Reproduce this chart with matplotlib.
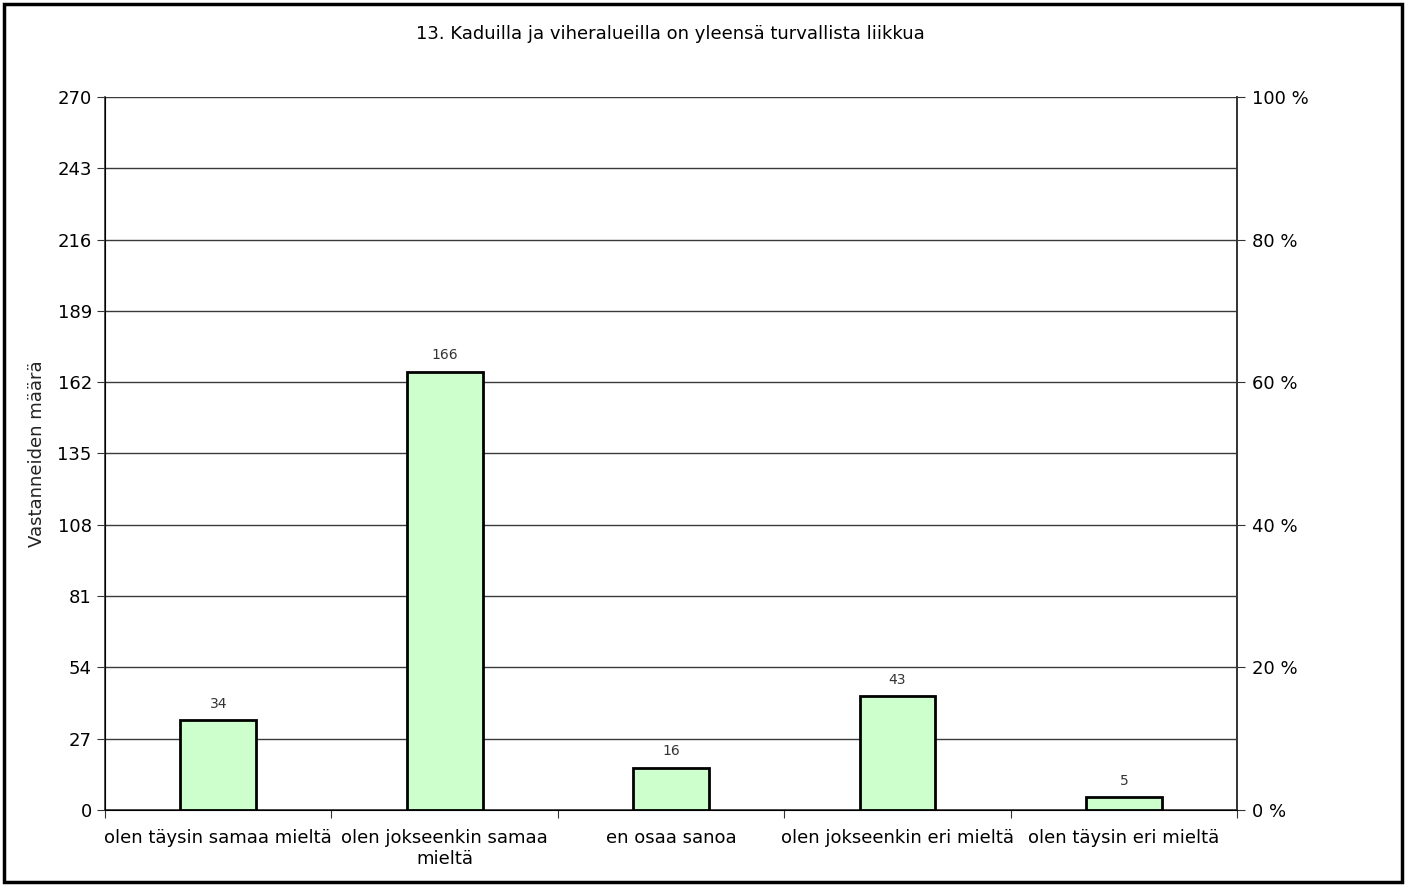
import matplotlib.pyplot as plt
import numpy as np
from matplotlib.patches import Rectangle

# data
kategoriat = ["olen täysin samaa mieltä", "olen jokseenkin samaa\nmieltä", "en osaa sanoa",
              "olen jokseenkin eri mieltä", "olen täysin eri mieltä"]
vastaukset = [34, 166, 16, 43, 5]
y_ticks = [0, 27, 54, 81, 108, 135, 162, 189, 216, 243, 270]
pros_ticks = [0, 20, 40, 60, 80, 100]
otsikko = "13. Kaduilla ja viheralueilla on yleensä turvallista liikkua"

plt.rcParams['font.family'] = ['DejaVu Sans']

fig = plt.figure(figsize=(14.08, 8.86), dpi=100)
ax = fig.add_axes([0.0746, 0.0858, 0.8040, 0.8047])

x = np.arange(len(kategoriat))
ax.bar(x, vastaukset, width=0.335, color='#CCFFCC', edgecolor='black', linewidth=2, zorder=3)
for xi, v in zip(x, vastaukset):
    ax.text(xi, v + 3.5, str(v), ha='center', va='bottom', fontsize=10, color='#333333')

ax.set_xlim(-0.5, len(kategoriat) - 0.5)
ax.set_ylim(0, 270)
ax.set_yticks(y_ticks)
ax.yaxis.grid(True, color='#3a3a3a', linewidth=1, zorder=0)
ax.tick_params(axis='y', labelsize=13, length=6, direction='out', color='#333333')

# x ticks at category boundaries, labels at centers
ax.set_xticks(np.arange(-0.5, len(kategoriat)), minor=False)
ax.set_xticklabels([])
ax.set_xticks(x, minor=True)
ax.set_xticklabels(kategoriat, minor=True, fontsize=13)
ax.tick_params(axis='x', which='major', length=6, color='#333333')
ax.tick_params(axis='x', which='minor', length=0, pad=14)

for s in ['top']:
    ax.spines[s].set_visible(False)
for s in ['left', 'bottom', 'right']:
    ax.spines[s].set_color('#333333')
    ax.spines[s].set_linewidth(1.2)

ax.set_ylabel("Vastanneiden määrä", fontsize=13, color='#222222', labelpad=8)

ax2 = ax.twinx()
ax2.set_ylim(0, 100)
ax2.set_yticks(pros_ticks)
ax2.set_yticklabels([f"{p} %" for p in pros_ticks])
ax2.tick_params(axis='y', labelsize=13, length=6, pad=5, color='#333333')
ax2.spines['top'].set_visible(False)
ax2.spines['right'].set_color('#333333')
ax2.spines['right'].set_linewidth(1.2)

fig.text(0.476, 0.962, otsikko, ha='center', va='center', fontsize=13)

fig.patches.append(Rectangle((0.003, 0.004), 0.993, 0.991, transform=fig.transFigure,
                             fill=False, edgecolor='black', linewidth=2.5))

fig.savefig("out.png", dpi=100)
